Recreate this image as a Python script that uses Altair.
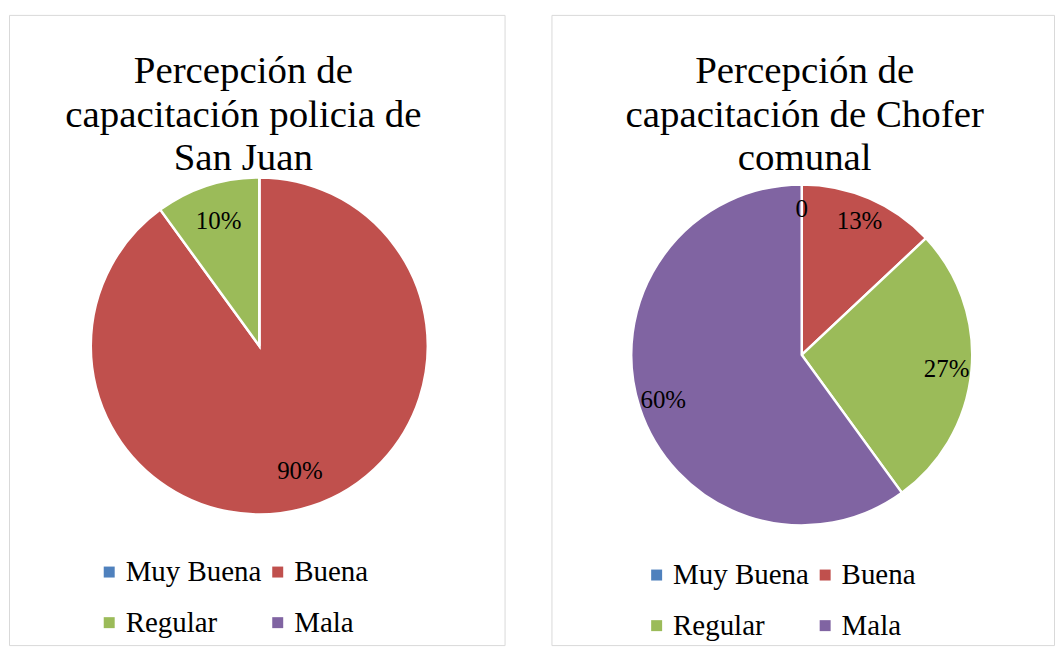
import altair as alt
import pandas as pd

categorias = ["Muy Buena", "Buena", "Regular", "Mala"]
colores = ["#4F81BD", "#C0504D", "#9BBB59", "#8064A2"]

policia_valores = [0, 90, 10, 0]
policia_etiquetas = ["", "90%", "10%", ""]
titulo_policia = ["Percepción de", "capacitación policia de", "San Juan"]

chofer_valores = [0, 13, 27, 60]
chofer_etiquetas = ["0", "13%", "27%", "60%"]
titulo_chofer = ["Percepción de", "capacitación de Chofer", "comunal"]

FUENTE = "Liberation Serif"


def panel(valores, etiquetas, titulo, ancho, alto, cx, cy, radio, radio_txt, tx, ty, lx, ly):
    df = pd.DataFrame({
        "categoria": categorias,
        "valor": valores,
        "etiqueta": etiquetas,
        "orden": list(range(len(categorias))),
    })
    base = alt.Chart(df).encode(
        theta=alt.Theta("valor:Q", stack=True),
        order=alt.Order("orden:Q"),
        x=alt.value(cx),
        y=alt.value(cy),
    )
    arcos = base.mark_arc(radius=radio, stroke="white", strokeWidth=2.5).encode(
        color=alt.Color(
            "categoria:N",
            scale=alt.Scale(domain=categorias, range=colores),
            sort=categorias,
            legend=alt.Legend(
                orient="none", legendX=lx, legendY=ly, columns=2, title=None,
                direction="horizontal",
                symbolType="square", symbolSize=121, symbolStrokeWidth=0,
                labelFont=FUENTE, labelFontSize=29, labelColor="black",
                labelOffset=2, columnPadding=1, rowPadding=21, padding=0,
            ),
        )
    )
    textos = base.mark_text(
        radius=radio_txt, font=FUENTE, fontSize=25, color="black",
        align="center", baseline="middle",
    ).encode(text="etiqueta:N")
    tit = alt.Chart(pd.DataFrame({"n": [0]})).mark_text(
        font=FUENTE, fontSize=39, color="black", align="center",
        baseline="alphabetic", lineHeight=44,
    ).encode(x=alt.value(tx), y=alt.value(ty), text=alt.value(titulo))
    return alt.layer(arcos, textos, tit).properties(width=ancho, height=alto)


izq = panel(policia_valores, policia_etiquetas, titulo_policia,
            497, 632, 251, 332, 169, 132, 235, 68, 86, 544)
der = panel(chofer_valores, chofer_etiquetas, titulo_chofer,
            504, 632, 251, 341, 171, 146, 254, 68, 91, 547)

chart = alt.hconcat(izq, der, spacing=45).resolve_scale(color="independent").properties(
    padding={"left": 0, "top": 5, "right": 0, "bottom": 0},
    background="white",
).configure_view(stroke="#d9d9d9", strokeWidth=1)

chart.save("out.html", embed_options={"renderer": "svg", "actions": False})
